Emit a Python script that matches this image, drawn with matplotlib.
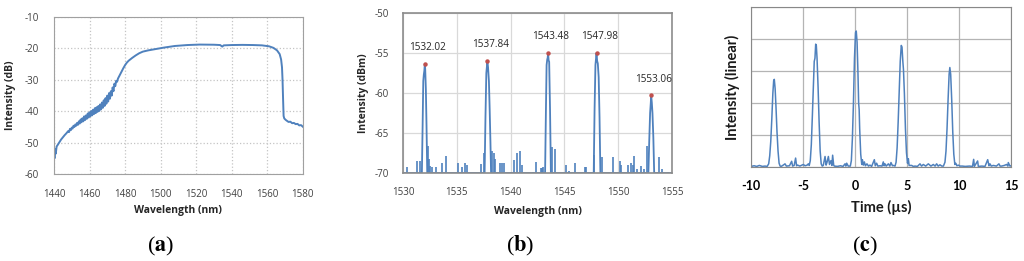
import matplotlib
matplotlib.use('Agg')
import matplotlib.pyplot as plt

plt.rcParams['axes.unicode_minus'] = False
plt.rcParams['mathtext.fontset'] = 'stix'

# (a) broadband spectrum, wavelength (nm) vs intensity (dB)
a_wl = [1440, 1440.3, 1440.6, 1441, 1441.5, 1442, 1443, 1444, 1445, 1446, 1447, 1448,
        1448.5, 1449, 1449.5, 1450, 1450.5, 1451, 1451.5, 1452, 1452.5, 1453, 1453.5,
        1454, 1454.5, 1455, 1455.5, 1456, 1456.5, 1457, 1457.5, 1458, 1458.5, 1459,
        1459.5, 1460, 1460.5, 1461, 1461.5, 1462, 1462.5, 1463, 1463.5, 1464, 1464.5,
        1465, 1465.5, 1466, 1466.5, 1467, 1467.5, 1468, 1468.5, 1469, 1469.5, 1470,
        1470.5, 1471, 1471.5, 1472, 1472.5, 1473, 1473.5, 1474, 1474.5, 1475, 1475.5,
        1476, 1477, 1478, 1479, 1480, 1481, 1482, 1484, 1486, 1488, 1490, 1493, 1497,
        1502, 1508, 1515, 1522, 1530, 1533.5, 1534.7, 1535.5, 1540, 1546, 1552, 1557,
        1561, 1563.5, 1565.5, 1567, 1567.8, 1568.3, 1568.6, 1568.9, 1569.2, 1569.6,
        1570.5, 1571, 1572, 1573, 1574, 1575, 1576, 1577, 1578, 1579, 1580]
a_db = [-52.5, -55.0, -52.0, -53.5, -51.2, -50.8, -49.9, -49.0, -48.3, -47.6, -47.0, -46.3,
        -46.6, -45.6, -46.0, -45.2, -45.5, -44.6, -45.0, -44.2, -44.6, -43.7, -44.3,
        -43.2, -43.9, -42.6, -43.5, -42.2, -43.2, -41.6, -42.8, -41.3, -42.4, -40.7,
        -42.0, -40.3, -41.6, -39.9, -41.3, -39.5, -40.9, -39.0, -40.6, -38.7, -40.2,
        -38.3, -39.9, -37.8, -39.4, -37.2, -38.9, -36.5, -38.3, -35.8, -37.6, -35.0,
        -36.9, -34.2, -36.0, -33.6, -35.0, -32.4, -33.6, -31.2, -32.0, -30.3, -30.6,
        -29.6, -28.5, -27.4, -26.3, -25.3, -24.5, -23.9, -23.0, -22.2, -21.5, -21.0,
        -20.6, -20.2, -19.7, -19.2, -18.9, -18.75, -18.8, -18.9, -19.4, -19.0, -18.9,
        -18.85, -18.9, -19.0, -19.3, -19.8, -20.6, -21.8, -23.5, -26.0, -30.0, -36.0,
        -41.5, -42.3, -42.8, -43.0, -43.4, -43.3, -43.8, -43.7, -44.1, -44.0, -44.5,
        -44.4, -44.9]

# (b) filtered lines, wavelength (nm) vs intensity (dBm)
b_wl = [1530.0, 1531.75, 1531.82, 1531.88, 1531.93, 1531.98, 1532.02, 1532.06, 1532.12,
        1532.18, 1532.25, 1537.58, 1537.66, 1537.74, 1537.8, 1537.84, 1537.9, 1537.98,
        1538.05, 1538.12, 1538.18, 1543.2, 1543.28, 1543.34, 1543.4, 1543.44, 1543.48,
        1543.53, 1543.58, 1543.66, 1543.74, 1547.72, 1547.8, 1547.88, 1547.94, 1547.98,
        1548.04, 1548.1, 1548.18, 1548.26, 1548.34, 1552.8, 1552.88, 1552.96, 1553.02,
        1553.06, 1553.12, 1553.18, 1553.26, 1553.34, 1555.0]
b_dbm = [-70, -70, -64, -58.5, -57.7, -57.2, -56.4, -57.0, -59.5,
         -64, -70, -70, -63, -57.5, -56.6, -56.0, -56.8, -58.5,
         -62, -66, -70, -70, -62, -56.5, -55.8, -55.6, -55.0,
         -55.9, -56.1, -62, -70, -70, -62, -56.5, -55.6, -55.0,
         -56.0, -56.3, -58, -63, -70, -70, -66, -62.5, -61.3,
         -60.3, -61.2, -62.5, -65.5, -70, -70]
spike_wl = [1530.37, 1531.3, 1531.6, 1532.3, 1532.42, 1532.55, 1532.72, 1533.1, 1533.65,
            1534.0, 1535.1, 1535.5, 1535.8, 1535.92, 1537.2, 1537.55, 1538.3, 1538.42,
            1538.52, 1539.0, 1539.2, 1539.35, 1540.0, 1540.3, 1540.6, 1540.9, 1541.05,
            1542.1, 1542.4, 1542.8, 1542.9, 1543.02, 1543.8, 1544.1, 1545.1, 1545.45,
            1546.0, 1546.9, 1547.0, 1547.7, 1548.5, 1549.5, 1550.15, 1550.3, 1550.9,
            1551.2, 1551.35, 1551.45, 1551.7, 1552.1, 1552.4, 1552.7, 1553.8, 1554.1,
            1554.6]
spike_dbm = [-69.3, -68.5, -68.5, -66.6, -68.2, -69.1, -69.2, -69.3, -68.8,
             -67.9, -68.8, -69.3, -68.8, -69.0, -68.9, -67.5, -67.2, -67.5,
             -68.2, -68.7, -68.7, -68.7, -69.9, -68.4, -67.5, -67.2, -69.0,
             -69.9, -68.6, -69.4, -69.4, -69.3, -66.7, -67.0, -69.0, -69.7,
             -68.8, -69.2, -69.2, -67.7, -68.0, -68.0, -68.5, -69.0, -69.0,
             -68.8, -69.0, -67.9, -69.5, -69.1, -69.5, -66.6, -68.0, -69.5,
             -69.9]
peak_wl = [1532.02, 1537.84, 1543.48, 1547.98, 1553.06]
peak_dbm = [-56.4, -56.0, -55.0, -55.0, -60.3]
peak_labels = ['1532.02', '1537.84', '1543.48', '1547.98', '1553.06']

# (c) pulse train, time (us) vs intensity (linear)
c_time = [-10.0, -9.7, -9.45, -9.2, -8.9, -8.65,
          -8.45, -8.3, -8.2, -8.1, -8.0, -7.9, -7.82, -7.76, -7.68, -7.6, -7.5, -7.4, -7.3, -7.2,
          -7.1, -6.9, -6.73, -6.6, -6.3, -6.09, -6.0, -5.85, -5.71, -5.62, -5.52, -5.3,
          -4.97, -4.8, -4.6, -4.49,
          -4.4, -4.3, -4.2, -4.1, -4.0, -3.92, -3.85, -3.78, -3.72, -3.65, -3.55, -3.45,
          -3.35, -3.25, -3.15,
          -3.05, -2.88, -2.78, -2.69, -2.56, -2.45, -2.31, -2.22, -2.15, -2.05, -1.99,
          -1.7, -1.4, -1.15, -0.96, -0.88, -0.8, -0.65,
          -0.45, -0.35, -0.25, -0.15, -0.05, 0.05, 0.12, 0.2, 0.28, 0.35, 0.4, 0.45,
          0.55, 0.65,
          0.71, 0.8, 0.9, 1.0, 1.15, 1.3, 1.44, 1.6, 1.86, 1.95, 2.08, 2.2, 2.4, 2.6,
          2.72, 2.8, 2.88, 3.0, 3.21, 3.35, 3.46, 3.6, 3.69,
          3.85, 3.95, 4.05, 4.15, 4.25, 4.35, 4.45, 4.52, 4.6, 4.66, 4.75, 4.85, 4.95,
          5.05, 5.13, 5.2,
          5.45, 5.6, 5.77, 6.0, 6.25, 6.4, 6.57, 6.8, 7.05, 7.3, 7.53, 7.7, 7.85, 8.0,
          8.17, 8.35,
          8.5, 8.65, 8.75, 8.85, 8.95, 9.05, 9.12, 9.2, 9.3, 9.4, 9.5, 9.6,
          9.68, 9.8, 9.94, 10.1, 10.32, 10.6, 11.0, 11.3, 11.41, 11.48, 11.79, 11.86,
          12.2, 12.5, 12.76, 12.88, 12.98, 13.1, 13.3, 13.6, 13.84, 13.95, 14.1, 14.35,
          14.58, 14.7, 14.74, 14.9, 15.0]
c_int = [0.02, 0.04, 0.02, 0.05, 0.02, 0.03,
         0.02, 0.1, 0.35, 0.8, 1.5, 2.3, 2.7, 2.74, 2.45, 1.9, 1.1, 0.5, 0.12, 0.03,
         0.02, 0.06, 0.1, 0.03, 0.04, 0.18, 0.03, 0.05, 0.28, 0.04, 0.06, 0.03,
         0.08, 0.04, 0.06, 0.1,
         0.05, 0.2, 0.7, 1.6, 2.6, 3.3, 3.4, 3.84, 3.8, 3.4, 2.5, 1.4,
         0.5, 0.1, 0.03,
         0.05, 0.33, 0.06, 0.15, 0.33, 0.08, 0.2, 0.05, 0.37, 0.06, 0.03,
         0.02, 0.04, 0.02, 0.1, 0.03, 0.12, 0.03,
         0.03, 0.2, 0.9, 2.0, 3.4, 4.2, 4.25, 3.9, 3.0, 2.0, 1.8, 1.2,
         0.4, 0.08,
         0.23, 0.06, 0.16, 0.04, 0.1, 0.03, 0.06, 0.02, 0.23, 0.04, 0.12, 0.03, 0.04, 0.03,
         0.16, 0.04, 0.1, 0.03, 0.1, 0.03, 0.14, 0.04, 0.05,
         0.03, 0.15, 0.6, 1.4, 2.4, 3.3, 3.8, 3.75, 3.3, 3.05, 2.3, 1.2, 0.45,
         0.12, 0.26, 0.05,
         0.05, 0.02, 0.03, 0.02, 0.1, 0.03, 0.08, 0.03, 0.1, 0.03, 0.08, 0.03, 0.1, 0.03,
         0.07, 0.03,
         0.03, 0.15, 0.5, 1.2, 2.1, 2.9, 3.11, 2.9, 2.1, 1.1, 0.4, 0.08,
         0.12, 0.04, 0.06, 0.03, 0.03, 0.02, 0.03, 0.02, 0.24, 0.02, 0.19, 0.02,
         0.03, 0.02, 0.23, 0.04, 0.1, 0.03, 0.05, 0.03, 0.1, 0.03, 0.03, 0.05,
         0.08, 0.03, 0.14, 0.03, 0.04]

blue = '#4f81bd'
tick_grey = '#404040'
sans = 'Open Sans'

fig = plt.figure(figsize=(10.24, 2.61), dpi=100)

# ---- (a)
ax = fig.add_axes([0.0527, 0.333, 0.243, 0.6015])
ax.plot(a_wl, a_db, color=blue, lw=1.4)
ax.set_xlim(1440, 1580)
ax.set_ylim(-60, -10)
ax.set_xticks(range(1440, 1581, 20))
ax.set_yticks(range(-60, -9, 10))
ax.grid(True, color='#c4c4c4', ls=':', lw=0.9)
ax.tick_params(length=0, labelsize=7, labelcolor=tick_grey, pad=11)
ax.set_xlabel('Wavelength (nm)', fontsize=7.5, fontweight='bold', family=sans,
              color='#262626', labelpad=3)
ax.set_ylabel('Intensity (dB)', fontsize=7.5, fontweight='bold', family=sans,
              color='#262626', labelpad=6)
for lab in ax.get_xticklabels() + ax.get_yticklabels():
    lab.set_family(sans)
for s in ax.spines.values():
    s.set_color('#a0a0a0')

# ---- (b)
ax = fig.add_axes([0.3936, 0.337, 0.2627, 0.613])
ax.plot(b_wl, b_dbm, color=blue, lw=1.3)
ax.vlines(spike_wl, -70, spike_dbm, color=blue, lw=1.2)
ax.plot(peak_wl, peak_dbm, 'o', color='#c0504d', ms=2.2, zorder=5)
for x, y, t in zip(peak_wl, peak_dbm, peak_labels):
    ax.annotate(t, (x, y), xytext=(2, 10), textcoords='offset points', ha='center',
                fontsize=7.2, family=sans, color='#262626')
ax.set_xlim(1530, 1555)
ax.set_ylim(-70, -50)
ax.set_xticks(range(1530, 1556, 5))
ax.set_yticks(range(-70, -49, 5))
ax.grid(True, color='#d9d9d9', lw=0.9)
ax.tick_params(length=0, labelsize=7, labelcolor=tick_grey, pad=10)
ax.set_xlabel('Wavelength (nm)', fontsize=7.5, fontweight='bold', family=sans,
              color='#262626', labelpad=6)
ax.set_ylabel('Intensity (dBm)', fontsize=7.5, fontweight='bold', family=sans,
              color='#262626', labelpad=4)
for lab in ax.get_xticklabels() + ax.get_yticklabels():
    lab.set_family(sans)
for s in ax.spines.values():
    s.set_color('#8c8c8c')
    s.set_linewidth(1.2)

# ---- (c)
ax = fig.add_axes([0.7334, 0.360, 0.2539, 0.613])
ax.plot(c_time, c_int, color=blue, lw=1.1)
ax.set_xlim(-10, 15)
ax.set_ylim(0, 5)
ax.set_xticks(range(-10, 16, 5))
ax.set_yticks(range(0, 6))
ax.set_yticklabels([])
ax.grid(True, color='#b4b4b4', lw=0.9)
ax.tick_params(length=0, labelsize=9, pad=9)
for lab in ax.get_xticklabels():
    lab.set_family('Lato')
    lab.set_fontweight('bold')
ax.set_xlabel('Time (\u00b5s)', fontsize=10.5, family='Lato', fontweight='bold',
              color='#1a1a1a', labelpad=6)
ax.set_ylabel('Intensity (linear)', fontsize=10.5, family='Lato', fontweight='bold',
              color='#1a1a1a', labelpad=-1)
for s in ax.spines.values():
    s.set_color('#888888')

# panel letters
for x, letter in [(0.157, 'a'), (0.508, 'b'), (0.845, 'c')]:
    fig.text(x, 0.038, '(' + r'$\mathbf{' + letter + '}$' + ')',
             family='Liberation Serif', fontsize=16, ha='center')

fig.savefig('out.png', dpi=100)
